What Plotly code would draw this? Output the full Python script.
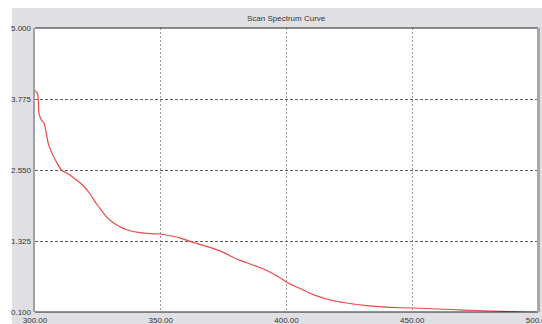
import plotly.graph_objects as go

wavelength = [300.0, 301.07, 301.3, 301.6, 302.7, 303.7, 305.3, 306.6, 308.6, 310.5, 313.2, 315.2,
              319.2, 321.9, 324.5, 326.5, 328.5, 330.5, 332.5, 334.5, 336.5, 341.7, 345.7, 349.7,
              353.7, 357.7, 361.6, 364.3, 369.6, 374.9, 380.2, 385.5, 390.8, 396.1, 400.1, 405.4,
              410.7, 417.3, 423.9, 431.9, 441.2, 450.5, 459.8, 470.4, 481.0, 490.3, 499.5, 500.0]
absorbance = [3.918, 3.861, 3.775, 3.521, 3.40, 3.349, 3.004, 2.854, 2.681, 2.55, 2.481, 2.422,
              2.279, 2.136, 1.963, 1.850, 1.740, 1.660, 1.600, 1.555, 1.520, 1.468, 1.451, 1.446,
              1.416, 1.380, 1.318, 1.283, 1.214, 1.128, 1.014, 0.928, 0.842, 0.726, 0.615, 0.505,
              0.400, 0.307, 0.255, 0.209, 0.179, 0.169, 0.152, 0.134, 0.117, 0.105, 0.095, 0.093]

x_ticks = [300, 350, 400, 450, 500]
x_tick_text = ["300.00", "350.00", "400.00", "450.00", "500.00"]
y_ticks = [0.100, 1.325, 2.550, 3.775, 5.000]
y_tick_text = ["0.100", "1.325", "2.550", "3.775", "5.000"]
title_text = "Scan Spectrum Curve"

W, H = 542, 324
L, R, T, B = 35, 4, 28, 12
pw, ph = W - L - R, H - T - B

def px2x(px):
    return (px - L) / pw

def py2y(py):
    return (H - B - py) / ph

panel = "#e0e0e4"
font = dict(family="Liberation Sans, Arial, sans-serif", size=8, color="#333333")

fig = go.Figure()
fig.add_trace(go.Scatter(x=wavelength, y=absorbance, mode="lines",
                         line=dict(color="rgb(240,70,70)", width=1.2, shape="spline", smoothing=0.4),
                         hoverinfo="skip", showlegend=False))

fig.update_layout(
    width=W, height=H,
    margin=dict(l=L, r=R, t=T, b=B, pad=0),
    paper_bgcolor=panel,
    plot_bgcolor="white",
    font=font,
    showlegend=False,
    xaxis=dict(range=[300, 500], tickvals=x_ticks, ticktext=x_tick_text,
               showgrid=True, gridcolor="#9a9a9a", griddash="2px,2px", gridwidth=1,
               zeroline=False, showline=False, ticks="", ticklabelstandoff=2,
               ticklabeloverflow="allow",
               tickfont=font, fixedrange=True, automargin=False),
    yaxis=dict(range=[0.1, 5.0], tickvals=y_ticks, ticktext=y_tick_text,
               showgrid=True, gridcolor="#606060", griddash="3px,2px", gridwidth=1,
               zeroline=False, showline=False, ticks="", ticklabelstandoff=3,
               ticklabeloverflow="allow",
               tickfont=font, fixedrange=True, automargin=False),
)

shapes = [
    # white strip on top and left (outside the gray panel)
    dict(type="rect", xref="paper", yref="paper", x0=px2x(-5), x1=px2x(W + 5),
         y0=py2y(8), y1=py2y(-5), fillcolor="white", line=dict(width=0), layer="below"),
    dict(type="rect", xref="paper", yref="paper", x0=px2x(-5), x1=px2x(12),
         y0=py2y(H + 5), y1=py2y(-5), fillcolor="white", line=dict(width=0), layer="below"),
    # frame
    dict(type="line", xref="paper", yref="paper", x0=0, x1=1, y0=1, y1=1,
         line=dict(color="#202020", width=1), layer="above"),
    dict(type="line", xref="paper", yref="paper", x0=0, x1=1, y0=0, y1=0,
         line=dict(color="#202020", width=1), layer="above"),
    dict(type="line", xref="paper", yref="paper", x0=px2x(34), x1=px2x(34), y0=0, y1=1,
         line=dict(color="#a0a0a0", width=2), layer="above"),
    dict(type="line", xref="paper", yref="paper", x0=px2x(538.5), x1=px2x(538.5), y0=0, y1=1,
         line=dict(color="#a8a8a8", width=3), layer="above"),
]
fig.update_layout(shapes=shapes)

fig.add_annotation(text=title_text, xref="paper", yref="paper", x=0.5, y=py2y(18),
                   xanchor="center", yanchor="middle", showarrow=False, font=font)

fig.write_html("out.html",
               config={"displayModeBar": False, "staticPlot": True},
               post_script="document.body.style.margin='0';document.body.style.padding='0';"
                           "document.body.style.overflow='hidden';")
